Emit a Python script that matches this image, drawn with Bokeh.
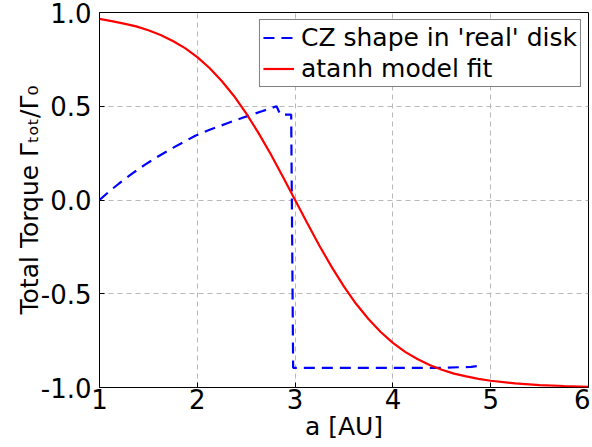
from bokeh.plotting import figure
from bokeh.models import Range1d, FixedTicker, Legend, LegendItem
from bokeh.embed import file_html
from bokeh.resources import INLINE

# data
x_cz = [1.0, 1.10, 1.20, 1.34, 1.47, 1.58, 1.75, 1.98, 2.12, 2.30, 2.47, 2.66, 2.81, 2.85, 2.96, 2.98, 3.5, 4.0, 4.5, 4.80, 4.88]
y_cz = [0.0, 0.046, 0.088, 0.143, 0.190, 0.226, 0.278, 0.343, 0.373, 0.408, 0.440, 0.473, 0.50, 0.455, 0.455, -0.895, -0.895, -0.895, -0.895, -0.89, -0.885]

x_fit = [1.0, 1.125, 1.25, 1.375, 1.5, 1.625, 1.75, 1.875, 2.0, 2.125, 2.25, 2.375, 2.5, 2.625, 2.75, 2.875,
         3.0, 3.125, 3.25, 3.375, 3.5, 3.625, 3.75, 3.875, 4.0, 4.125, 4.25, 4.375, 4.5, 4.625, 4.75, 4.875,
         5.0, 5.25, 5.5, 5.75, 6.0]
y_fit = [0.966, 0.954, 0.941, 0.926, 0.905, 0.880, 0.848, 0.810, 0.762, 0.704, 0.635, 0.555, 0.462, 0.358, 0.245, 0.124,
         0.0, -0.124, -0.245, -0.358, -0.462, -0.555, -0.635, -0.704, -0.762, -0.810, -0.848, -0.880, -0.905, -0.926, -0.941, -0.954,
         -0.964, -0.978, -0.987, -0.992, -0.996]

x_ticks = [1, 2, 3, 4, 5, 6]
x_tick_labels = ["1", "2", "3", "4", "5", "6"]
y_ticks = [-1.0, -0.5, 0.0, 0.5, 1.0]
y_tick_labels = ["-1.0", "-0.5", "0.0", "0.5", "1.0"]

series_labels = ["CZ shape in 'real' disk", "atanh model fit"]

FONT = "DejaVu Sans"

p = figure(width=590, height=447, output_backend="svg", toolbar_location=None,
           x_range=Range1d(1, 6), y_range=Range1d(-1, 1),
           min_border_left=99, min_border_right=2, min_border_top=12, min_border_bottom=60)

p.outline_line_color = "black"
p.outline_line_width = 1
p.background_fill_color = "white"
p.border_fill_color = "white"

for ax in (p.xaxis[0], p.yaxis[0]):
    ax.axis_line_color = None
    ax.major_tick_in = 5
    ax.major_tick_out = 0
    ax.minor_tick_in = 0
    ax.minor_tick_out = 0
    ax.major_label_text_font = FONT
    ax.major_label_text_font_size = "26px"
    ax.major_label_text_color = "black"
    ax.axis_label_text_font = FONT
    ax.axis_label_text_font_size = "25px"
    ax.axis_label_text_font_style = "normal"
    ax.axis_label_text_color = "black"

p.xaxis.ticker = FixedTicker(ticks=x_ticks)
p.xaxis.major_label_overrides = {t: l for t, l in zip(x_ticks, x_tick_labels)}
p.yaxis.ticker = FixedTicker(ticks=y_ticks)
p.yaxis.major_label_overrides = {t: l for t, l in zip(y_ticks, y_tick_labels)}

p.xaxis.axis_label = "a [AU]"
p.yaxis.axis_label = "Total Torque \u0393\u209c\u2092\u209c/\u0393\u2080"
p.xaxis.major_label_standoff = 1
p.xaxis.axis_label_standoff = 0
p.yaxis.major_label_standoff = 8
p.yaxis.axis_label_standoff = -6

for g in (p.xgrid[0], p.ygrid[0]):
    g.grid_line_color = "#b8b8b8"
    g.grid_line_dash = "5 4"
    g.grid_line_width = 1

r_cz = p.line(x_cz, y_cz, line_color="#0000ff", line_width=2.2, line_dash="11 7")
r_fit = p.line(x_fit, y_fit, line_color="#ff0000", line_width=2.2)

legend = Legend(items=[LegendItem(label=series_labels[0], renderers=[r_cz]),
                       LegendItem(label=series_labels[1], renderers=[r_fit])],
                location="top_right")
legend.label_text_font = FONT
legend.label_text_font_size = "25px"
legend.label_text_color = "black"
legend.border_line_color = "black"
legend.border_line_width = 1
legend.background_fill_alpha = 1.0
legend.margin = 7
legend.padding = 3
legend.spacing = 2
legend.glyph_width = 31
legend.glyph_height = 27
legend.label_height = 27
legend.label_standoff = 7
legend.label_text_baseline = "middle"
p.add_layout(legend, "center")

open("out.html", "w").write(file_html(p, INLINE))
